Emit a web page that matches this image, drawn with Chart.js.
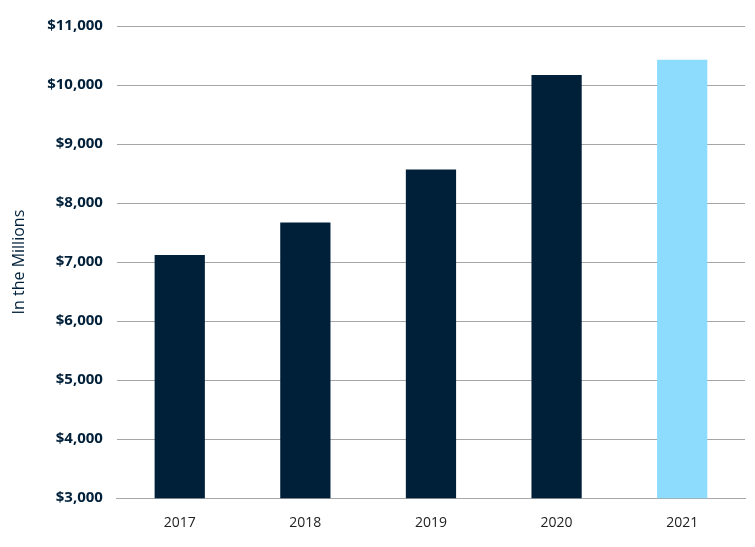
<!DOCTYPE html>
<html>
<head>
<meta charset="utf-8">
<script src="https://cdn.jsdelivr.net/npm/chart.js@4"></script>
<style>
html,body{margin:0;padding:0;background:#fff;}
#wrap{width:755px;height:547px;}
</style>
</head>
<body>
<div id="wrap"><canvas id="revenueChart"></canvas></div>
<script>
// data
const years = ["2017","2018","2019","2020","2021"];
const revenue = [7120, 7670, 8570, 10170, 10430];
const barColors = ["#00203a","#00203a","#00203a","#00203a","#8ddcfe"];

const canvas = document.getElementById("revenueChart");

new Chart(canvas,{
    type:"bar",
    data:{
        labels:years,
        datasets:[{
            data:revenue,
            backgroundColor:barColors,
            barPercentage:0.4,
            categoryPercentage:1
        }]
    },
    options:{
        responsive:true,
        maintainAspectRatio:false,
        animation:false,
        layout:{padding:{top:26,right:10,bottom:8,left:6}},
        plugins:{legend:{display:false},tooltip:{enabled:false}},
        scales:{
            y:{
                min:3000,
                max:11000,
                ticks:{
                    stepSize:1000,
                    padding:14,
                    color:"#00203a",
                    font:{family:"Open Sans",size:15,weight:"bold"},
                    callback:v=>"$"+v.toLocaleString("en-US")
                },
                grid:{color:"#a6a6a6",drawTicks:false},
                border:{display:false},
                title:{
                    display:true,
                    text:"In the Millions",
                    color:"#00203a",
                    font:{family:"Open Sans",size:16}
                }
            },
            x:{
                ticks:{color:"#222",padding:8,font:{family:"Open Sans",size:14}},
                grid:{display:false},
                border:{color:"#a6a6a6"}
            }
        }
    }
});
</script>
</body>
</html>
